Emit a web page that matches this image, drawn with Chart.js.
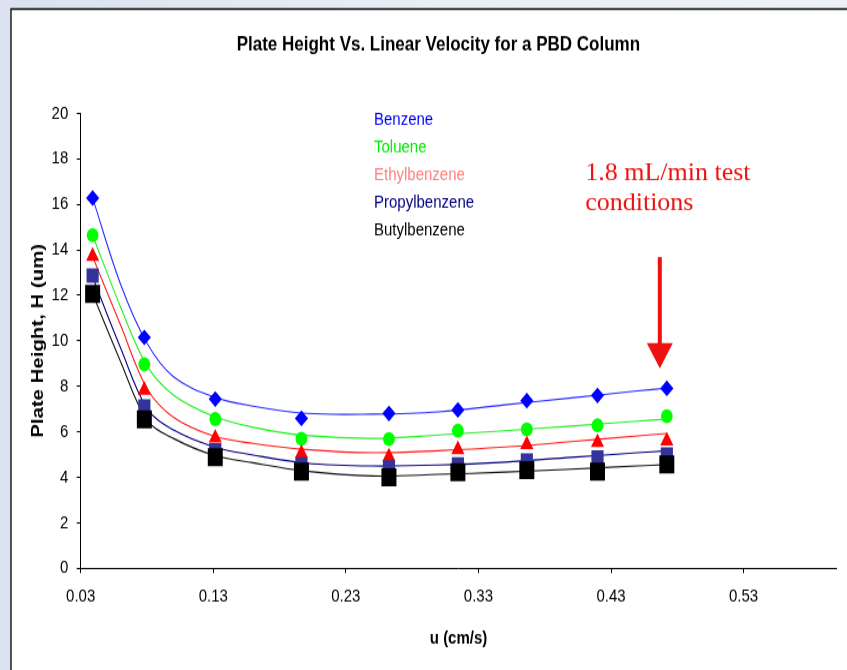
<!DOCTYPE html>
<html><head><meta charset="utf-8">
<script src="https://cdn.jsdelivr.net/npm/chart.js@4/dist/chart.umd.min.js"></script>
<style>
html,body{margin:0;padding:0;width:847px;height:670px;overflow:hidden;background:#e3e9f1;}
#wrap{position:absolute;left:0;top:0;width:847px;height:558px;transform:scaleY(1.2007);transform-origin:0 0;}
canvas{display:block;}
</style></head><body>
<div id="wrap"><canvas id="c" width="847" height="558"></canvas></div>
<script>
// ---- data ----
const uPoints = [0.039, 0.078, 0.1315, 0.1965, 0.2625, 0.3145, 0.3665, 0.4198, 0.4721];
const benzene       = [16.28, 10.15, 7.44, 6.59, 6.81, 6.96, 7.37, 7.60, 7.91];
const toluene       = [14.64, 8.97, 6.56, 5.70, 5.68, 6.05, 6.11, 6.29, 6.69];
const ethylbenzene  = [13.72, 7.83, 5.73, 5.05, 4.90, 5.22, 5.44, 5.53, 5.60];
const propylbenzene = [12.87, 7.11, 5.19, 4.56, 4.43, 4.56, 4.74, 4.87, 5.00];
const butylbenzene  = [12.06, 6.55, 4.88, 4.25, 4.00, 4.22, 4.32, 4.25, 4.57];

// fitted (smoothed) curves
const uFit = [0.039, 0.06, 0.08, 0.10, 0.13, 0.16, 0.20, 0.25, 0.30, 0.35, 0.40, 0.45, 0.472];
const benzeneFit       = [16.28, 12.5, 9.9, 8.42, 7.54, 7.13, 6.81, 6.78, 6.88, 7.19, 7.49, 7.80, 7.92];
const tolueneFit       = [14.64, 11.5, 8.9, 7.62, 6.69, 6.20, 5.84, 5.71, 5.86, 6.05, 6.25, 6.47, 6.56];
const ethylbenzeneFit  = [13.70, 10.7, 7.91, 6.64, 5.82, 5.49, 5.22, 5.08, 5.17, 5.33, 5.57, 5.82, 5.93];
const propylbenzeneFit = [12.80, 9.7, 7.03, 6.08, 5.35, 4.98, 4.62, 4.50, 4.54, 4.67, 4.88, 5.08, 5.17];
const butylbenzeneFit  = [12.06, 9.1, 6.52, 5.71, 4.98, 4.64, 4.27, 4.06, 4.13, 4.23, 4.36, 4.50, 4.56];

const seriesNames = ['Benzene', 'Toluene', 'Ethylbenzene', 'Propylbenzene', 'Butylbenzene'];
const xTickValues = [0.03, 0.13, 0.23, 0.33, 0.43, 0.53];
const xTickLabels = ['0.03', '0.13', '0.23', '0.33', '0.43', '0.53'];

// annotation (data coordinates)
const noteLines = ['1.8 mL/min test', 'conditions'];
const noteX = 0.4105, noteY = [17.07, 15.72];
const arrowX = 0.4668, arrowTop = 13.68, arrowHead = 9.9, arrowTip = 8.79;

// ---- styles ----
const STRETCH = 670 / 558;
const FONT = '"Liberation Sans", Arial, sans-serif';
const markerColors = ['#0000ff', '#00ff00', '#ff0000', '#333399', '#000000'];
const lineColors   = ['#2a2aff', '#22ee22', '#ff1a1a', '#000080', '#111111'];
const legendColors = ['#0000ff', '#00ee00', '#ff8080', '#000080', '#000000'];
const pointStyles  = ['rectRot', 'circle', 'triangle', 'rect', 'rect'];
const pointRadii   = [6.6, 5.9, 7.6, 8.6, 10.6];

const pts = [benzene, toluene, ethylbenzene, propylbenzene, butylbenzene];
const fits = [benzeneFit, tolueneFit, ethylbenzeneFit, propylbenzeneFit, butylbenzeneFit];

const datasets = [];
fits.forEach((f, i) => {
  datasets.push({
    label: seriesNames[i] + ' fit',
    data: uFit.map((u, k) => ({x: u, y: f[k]})),
    showLine: true, pointRadius: 0, pointHoverRadius: 0,
    borderColor: lineColors[i], borderWidth: 1.1,
    tension: 0.35,
    order: 20 - i
  });
});
pts.forEach((p, i) => {
  datasets.push({
    label: seriesNames[i],
    data: uPoints.map((u, k) => ({x: u, y: p[k]})),
    showLine: false,
    pointStyle: pointStyles[i], pointRadius: pointRadii[i], pointHoverRadius: pointRadii[i],
    backgroundColor: markerColors[i], borderColor: markerColors[i], borderWidth: 0,
    order: 10 - i
  });
});

const bgPlugin = {
  id: 'bg',
  afterLayout(chart) {
    // the reference title sits a little right of the canvas centre
    const t = chart.titleBlock;
    if (t) { t.left += 36; }
  },
  beforeDraw(chart) {
    const ctx = chart.ctx, W = chart.width, H = chart.height;
    ctx.save();
    const g = ctx.createLinearGradient(0, 0, W, 0);
    g.addColorStop(0, '#d9e2ee'); g.addColorStop(0.5, '#e9eef5'); g.addColorStop(1, '#eef2f7');
    ctx.fillStyle = g; ctx.fillRect(0, 0, W, H);
    ctx.fillStyle = '#ffffff'; ctx.fillRect(11, 7.5, W, H);
    ctx.strokeStyle = '#000'; ctx.lineWidth = 1.3;
    ctx.beginPath(); ctx.moveTo(11, H); ctx.lineTo(11, 7.5); ctx.lineTo(W, 7.5); ctx.stroke();
    ctx.restore();
  }
};

const annotPlugin = {
  id: 'annot',
  afterDatasetsDraw(chart) {
    const ctx = chart.ctx, xs = chart.scales.x, ys = chart.scales.y;
    ctx.save();
    // legend (text only)
    ctx.font = '15px ' + FONT; ctx.textAlign = 'left'; ctx.textBaseline = 'middle';
    seriesNames.forEach((n, i) => { ctx.fillStyle = legendColors[i]; ctx.fillText(n, 374, 100 + i * 23); });
    // arrow
    const ax = xs.getPixelForValue(arrowX);
    const yTop = ys.getPixelForValue(arrowTop), yHead = ys.getPixelForValue(arrowHead), yTip = ys.getPixelForValue(arrowTip);
    ctx.fillStyle = '#ee1111';
    ctx.fillRect(ax - 2, yTop, 4, yHead - yTop + 1);
    ctx.beginPath(); ctx.moveTo(ax - 13, yHead); ctx.lineTo(ax + 13, yHead); ctx.lineTo(ax, yTip); ctx.closePath(); ctx.fill();
    // note text (not stretched)
    ctx.font = '26px "Liberation Serif", "Times New Roman", serif';
    ctx.textBaseline = 'alphabetic';
    const nx = xs.getPixelForValue(noteX);
    noteLines.forEach((t, i) => {
      const ny = ys.getPixelForValue(noteY[i]);
      ctx.save(); ctx.translate(nx, ny); ctx.scale(1, 1 / STRETCH);
      ctx.fillText(t, 0, 0); ctx.restore();
    });
    ctx.restore();
  }
};

new Chart(document.getElementById('c'), {
  type: 'scatter',
  data: { datasets },
  plugins: [bgPlugin, annotPlugin],
  options: {
    responsive: false, animation: false, devicePixelRatio: 1,
    layout: { padding: { left: 0, right: 6.3, top: 0, bottom: 0 } },
    plugins: {
      legend: { display: false }, tooltip: { enabled: false },
      title: { display: true, text: 'Plate Height Vs. Linear Velocity for a PBD Column', color: '#000',
               font: { family: FONT, size: 17, weight: 'bold' }, padding: { top: 27, bottom: 47 } }
    },
    scales: {
      x: {
        type: 'linear', min: 0.03, max: 0.6,
        afterBuildTicks(s) { s.ticks = xTickValues.map(v => ({ value: v })); },
        afterFit(s) { s.height = 84.7; },
        ticks: { callback: (v, i) => xTickLabels[i], color: '#000', padding: 11, maxRotation: 0, autoSkip: false,
                 font: { family: FONT, size: 15 } },
        grid: { drawOnChartArea: false, drawTicks: true, tickLength: 4, tickColor: '#000', tickWidth: 1 },
        border: { display: true, color: '#000', width: 1 },
        title: { display: true, text: 'u (cm/s)', color: '#000', font: { family: FONT, size: 15, weight: 'bold' },
                 padding: { top: 0, bottom: 17.6 } }
      },
      y: {
        min: 0, max: 20,
        afterFit(s) { s.width = 80.7; },
        ticks: { stepSize: 2, color: '#000', padding: 8.4, font: { family: FONT, size: 15 } },
        grid: { drawOnChartArea: false, drawTicks: true, tickLength: 4, tickColor: '#000', tickWidth: 1 },
        border: { display: true, color: '#000', width: 1 },
        title: { display: true, text: 'Plate Height, H (um)', color: '#000', font: { family: FONT, size: 17, weight: 'bold' },
                 padding: { top: 28.5, bottom: 0 } }
      }
    }
  }
});
</script>
</body></html>
